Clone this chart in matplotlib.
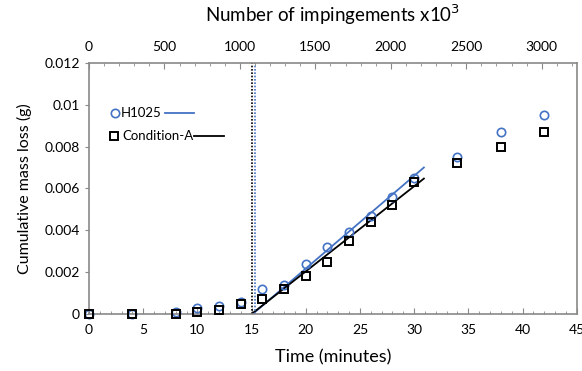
import numpy as np
import matplotlib
matplotlib.use('Agg')
import matplotlib.pyplot as plt
from matplotlib.ticker import MultipleLocator

plt.rcParams['font.family'] = ['Lato', 'DejaVu Sans']

# measured data (time in minutes, cumulative mass loss in g)
time = [0, 4, 8, 10, 12, 14, 16, 18, 20, 22, 24, 26, 28, 30, 34, 38, 42]
h1025 = [0, 0, 0.0001, 0.0003, 0.0004, 0.00057, 0.0012, 0.0014, 0.0024, 0.0032,
         0.0039, 0.0047, 0.0056, 0.0065, 0.0075, 0.0087, 0.0095]
cond_a = [0, 0, 0, 0.0001, 0.0002, 0.0005, 0.0007, 0.0012, 0.0018, 0.0025,
          0.0035, 0.0044, 0.0052, 0.0063, 0.0072, 0.0080, 0.0087]

# linear fits (steady-state region)
fit_t_h = [15.1, 30.9]
fit_h = [0, 0.0070]
fit_t_a = [15.0, 30.9]
fit_a = [0, 0.00647]

# incubation times
inc_a = 15.0
inc_h = 15.35

y_ticks = [0, 0.002, 0.004, 0.006, 0.008, 0.010, 0.012]
y_labels = ['0', '0.002', '0.004', '0.006', '0.008', '0.01', '0.012']

blue = '#4472C4'
grey = '#898989'

fig = plt.figure(figsize=(5.82, 3.71), dpi=100)
ax = fig.add_axes([0.1529, 0.1536, 0.838, 0.677])

ax.plot(time, h1025, 'o', mfc='none', mec=blue, ms=6, mew=1.2, zorder=3, clip_on=False)
ax.plot(time, cond_a, 's', mfc='none', mec='black', ms=6, mew=1.4, zorder=4, clip_on=False)
ax.plot(fit_t_h, fit_h, color=blue, lw=1.3, zorder=2)
ax.plot(fit_t_a, fit_a, color='black', lw=1.3, zorder=2)
ax.axvline(inc_a, color='black', ls=(0, (1, 1)), lw=1.2)
ax.axvline(inc_h, color=blue, ls=(0, (1, 1)), lw=1.2)

ax.set_xlim(0, 45)
ax.set_ylim(0, 0.012)
ax.xaxis.set_major_locator(MultipleLocator(5))
ax.xaxis.set_minor_locator(MultipleLocator(1))
ax.set_yticks(y_ticks, y_labels)
ax.tick_params(axis='x', which='both', direction='in', colors=grey, labelcolor='black',
               labelsize=10, pad=7)
ax.tick_params(axis='x', which='major', length=4)
ax.tick_params(axis='x', which='minor', length=2)
ax.tick_params(axis='y', direction='out', colors=grey, labelcolor='black', labelsize=10, length=3)
for s in ax.spines.values():
    s.set_color(grey)
    s.set_linewidth(1.2)
ax.set_xlabel('Time (minutes)', fontsize=13, labelpad=10)
ax.set_ylabel('Cumulative mass loss (g)', fontsize=11.5, labelpad=9)

top = ax.twiny()
top.set_xlim(0, 3232)
top.xaxis.set_major_locator(MultipleLocator(500))
top.xaxis.set_minor_locator(MultipleLocator(100))
top.tick_params(axis='x', which='both', direction='in', colors=grey, labelcolor='black',
                labelsize=10, pad=7)
top.tick_params(axis='x', which='major', length=4)
top.tick_params(axis='x', which='minor', length=2)
for s in top.spines.values():
    s.set_visible(False)
top.set_xlabel('Number of impingements x10$^{3}$', fontsize=13.5, labelpad=14)

# legend: marker, label, then line sample
tr = ax.transAxes
ax.plot([0.054], [0.80], 'o', mfc='none', mec=blue, ms=6, mew=1.2, transform=tr)
ax.text(0.066, 0.80, 'H1025', fontsize=9.5, va='center', transform=tr)
ax.plot([0.155, 0.216], [0.80, 0.80], color=blue, lw=1.3, transform=tr)
ax.plot([0.052], [0.708], 's', mfc='none', mec='black', ms=6, mew=1.4, transform=tr)
ax.text(0.069, 0.708, 'Condition-A', fontsize=9.5, va='center', transform=tr)
ax.plot([0.216, 0.277], [0.708, 0.708], color='black', lw=1.3, transform=tr)

fig.savefig('out.png', dpi=100)
